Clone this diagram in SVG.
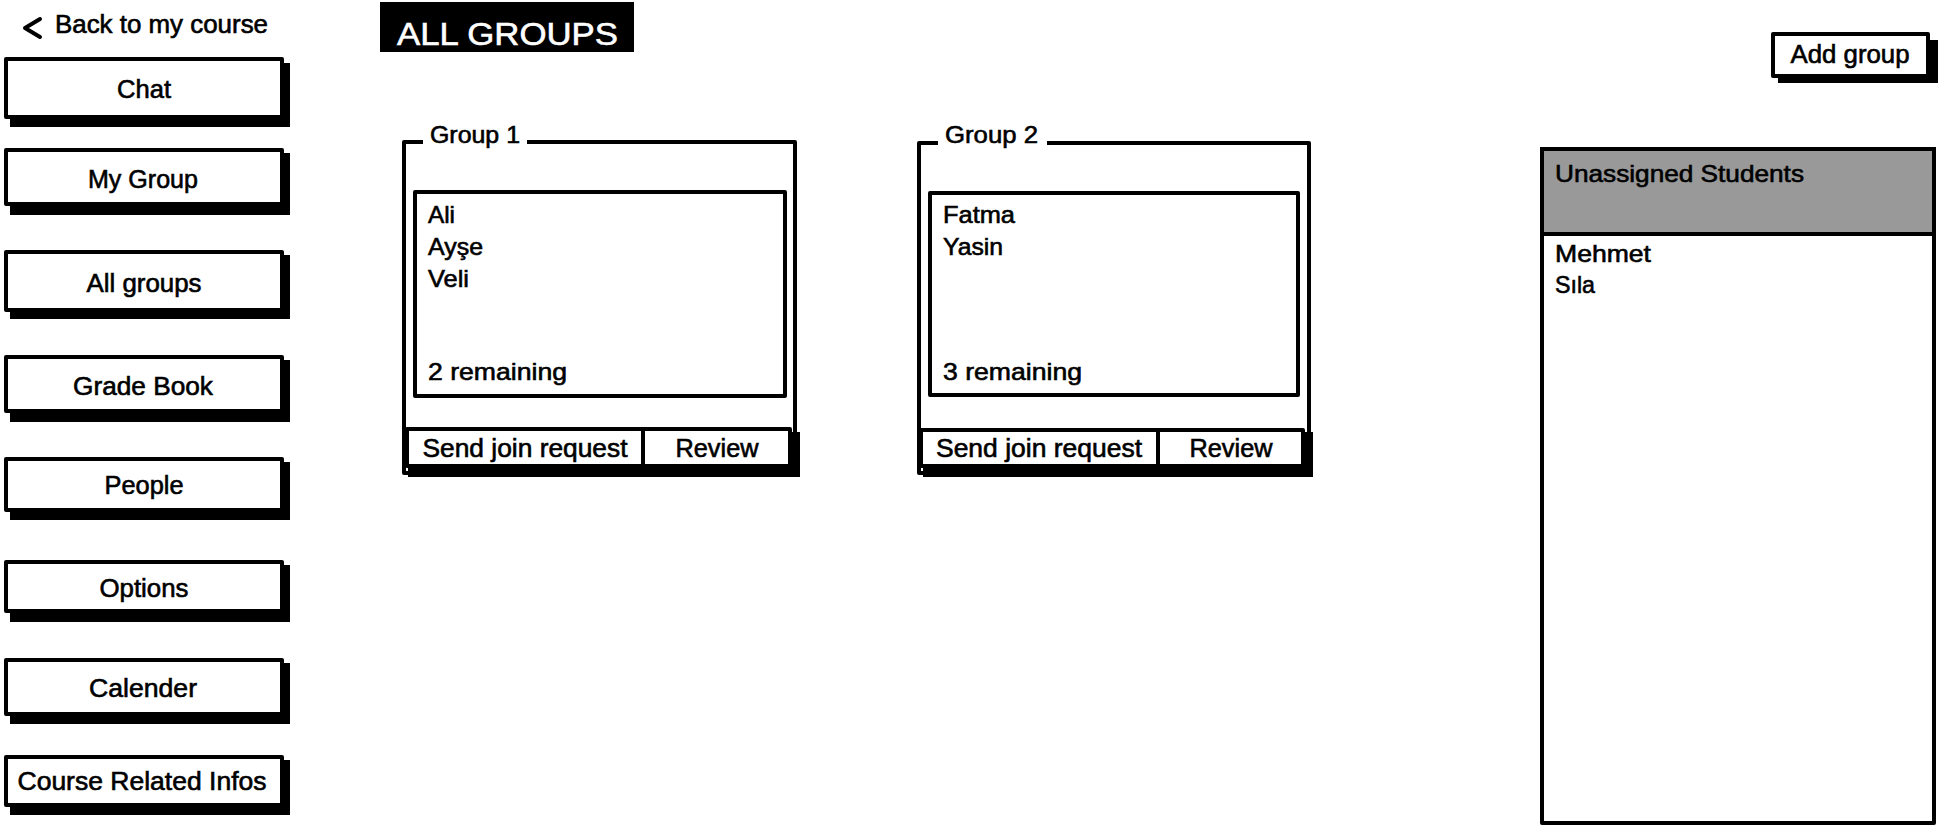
<svg xmlns="http://www.w3.org/2000/svg" width="1938" height="830" viewBox="0 0 1938 830">
<style>
text{font-family:"Liberation Sans","Noto Sans",Arial,sans-serif;fill:#000;stroke:#000;stroke-width:0.6px}
.btn{fill:#fff;stroke:#000;stroke-width:4;stroke-linejoin:round}
.sh{fill:#000}
.lbl{font-size:25px;text-anchor:middle}
.item{font-size:24px}
.frame{fill:#fff;stroke:#000;stroke-width:4;stroke-linejoin:round}
</style>
<rect width="1938" height="830" fill="#fff"/>

<g id="back">
<polyline points="40,19 25,28 40,37" fill="none" stroke="#000" stroke-width="4" stroke-linecap="round" stroke-linejoin="round"/>
<text x="55" y="33" font-size="25" textLength="213" lengthAdjust="spacingAndGlyphs">Back to my course</text>
</g>

<g id="nav-chat">
<rect class="sh" x="10" y="63" width="280" height="64"/>
<rect class="btn" x="6" y="59" width="276" height="58"/>
<text class="lbl" x="144" y="98" textLength="54" lengthAdjust="spacingAndGlyphs">Chat</text>
</g>
<g id="nav-mygroup">
<rect class="sh" x="10" y="153" width="280" height="62"/>
<rect class="btn" x="6" y="150" width="276" height="54"/>
<text class="lbl" x="143" y="188" textLength="110" lengthAdjust="spacingAndGlyphs">My Group</text>
</g>
<g id="nav-allgroups">
<rect class="sh" x="10" y="255" width="280" height="64"/>
<rect class="btn" x="6" y="252" width="276" height="58"/>
<text class="lbl" x="144" y="292" textLength="115" lengthAdjust="spacingAndGlyphs">All groups</text>
</g>
<g id="nav-gradebook">
<rect class="sh" x="10" y="360" width="280" height="62"/>
<rect class="btn" x="6" y="357" width="276" height="54"/>
<text class="lbl" x="143" y="395" textLength="140" lengthAdjust="spacingAndGlyphs">Grade Book</text>
</g>
<g id="nav-people">
<rect class="sh" x="10" y="462" width="280" height="58"/>
<rect class="btn" x="6" y="459" width="276" height="51"/>
<text class="lbl" x="144" y="494" textLength="79" lengthAdjust="spacingAndGlyphs">People</text>
</g>
<g id="nav-options">
<rect class="sh" x="10" y="565" width="280" height="57"/>
<rect class="btn" x="6" y="562" width="276" height="49"/>
<text class="lbl" x="144" y="597" textLength="89" lengthAdjust="spacingAndGlyphs">Options</text>
</g>
<g id="nav-calender">
<rect class="sh" x="10" y="663" width="280" height="61"/>
<rect class="btn" x="6" y="660" width="276" height="54"/>
<text class="lbl" x="143" y="697" textLength="108" lengthAdjust="spacingAndGlyphs">Calender</text>
</g>
<g id="nav-courseinfo">
<rect class="sh" x="10" y="760" width="280" height="55"/>
<rect class="btn" x="6" y="757" width="276" height="48"/>
<text class="lbl" x="142" y="790" textLength="249" lengthAdjust="spacingAndGlyphs">Course Related Infos</text>
</g>

<g id="title">
<rect x="380" y="2" width="254" height="50" fill="#000"/>
<text x="397" y="45" font-size="32" style="fill:#fff;stroke:#fff" textLength="221" lengthAdjust="spacingAndGlyphs">ALL GROUPS</text>
</g>

<g id="group1">
<rect class="frame" x="404" y="142" width="391" height="331"/>
<rect x="423" y="132" width="104" height="16" fill="#fff"/>
<text class="item" x="430" y="143" textLength="90" lengthAdjust="spacingAndGlyphs">Group 1</text>
<rect class="frame" x="415" y="192" width="370" height="204"/>
<text class="item" x="428" y="223" textLength="27" lengthAdjust="spacingAndGlyphs">Ali</text>
<text class="item" x="428" y="255" textLength="55" lengthAdjust="spacingAndGlyphs">Ayşe</text>
<text class="item" x="428" y="287" textLength="41" lengthAdjust="spacingAndGlyphs">Veli</text>
<text class="item" x="428" y="380" textLength="139" lengthAdjust="spacingAndGlyphs">2 remaining</text>
<rect class="sh" x="408" y="432" width="392" height="45"/>
<rect class="btn" x="407" y="429" width="236" height="37"/>
<rect class="btn" x="643" y="429" width="147" height="37"/>
<text class="lbl" x="525" y="457" textLength="205" lengthAdjust="spacingAndGlyphs">Send join request</text>
<text class="lbl" x="717" y="457" textLength="83" lengthAdjust="spacingAndGlyphs">Review</text>
</g>

<g id="group2">
<rect class="frame" x="919" y="143" width="390" height="330"/>
<rect x="938" y="132" width="109" height="17" fill="#fff"/>
<text class="item" x="945" y="143" textLength="93" lengthAdjust="spacingAndGlyphs">Group 2</text>
<rect class="frame" x="930" y="193" width="368" height="202"/>
<text class="item" x="943" y="223" textLength="72" lengthAdjust="spacingAndGlyphs">Fatma</text>
<text class="item" x="943" y="255" textLength="60" lengthAdjust="spacingAndGlyphs">Yasin</text>
<text class="item" x="943" y="380" textLength="139" lengthAdjust="spacingAndGlyphs">3 remaining</text>
<rect class="sh" x="923" y="432" width="390" height="45"/>
<rect class="btn" x="921" y="430" width="237" height="36"/>
<rect class="btn" x="1158" y="430" width="145" height="36"/>
<text class="lbl" x="1039" y="457" textLength="206" lengthAdjust="spacingAndGlyphs">Send join request</text>
<text class="lbl" x="1231" y="457" textLength="83" lengthAdjust="spacingAndGlyphs">Review</text>
</g>

<g id="add-group">
<rect class="sh" x="1778" y="40" width="160" height="43"/>
<rect class="btn" x="1773" y="34" width="155" height="42"/>
<text class="lbl" x="1850" y="63" textLength="119" lengthAdjust="spacingAndGlyphs">Add group</text>
</g>

<g id="unassigned">
<rect class="frame" x="1542" y="149" width="392" height="674"/>
<rect x="1542" y="149" width="392" height="85" fill="#999" stroke="#000" stroke-width="4"/>
<text class="item" x="1555" y="182" textLength="249" lengthAdjust="spacingAndGlyphs">Unassigned Students</text>
<text class="item" x="1555" y="262" textLength="96" lengthAdjust="spacingAndGlyphs">Mehmet</text>
<text class="item" x="1555" y="293" textLength="40" lengthAdjust="spacingAndGlyphs">Sıla</text>
</g>

<g id="connectors"></g>
</svg>
